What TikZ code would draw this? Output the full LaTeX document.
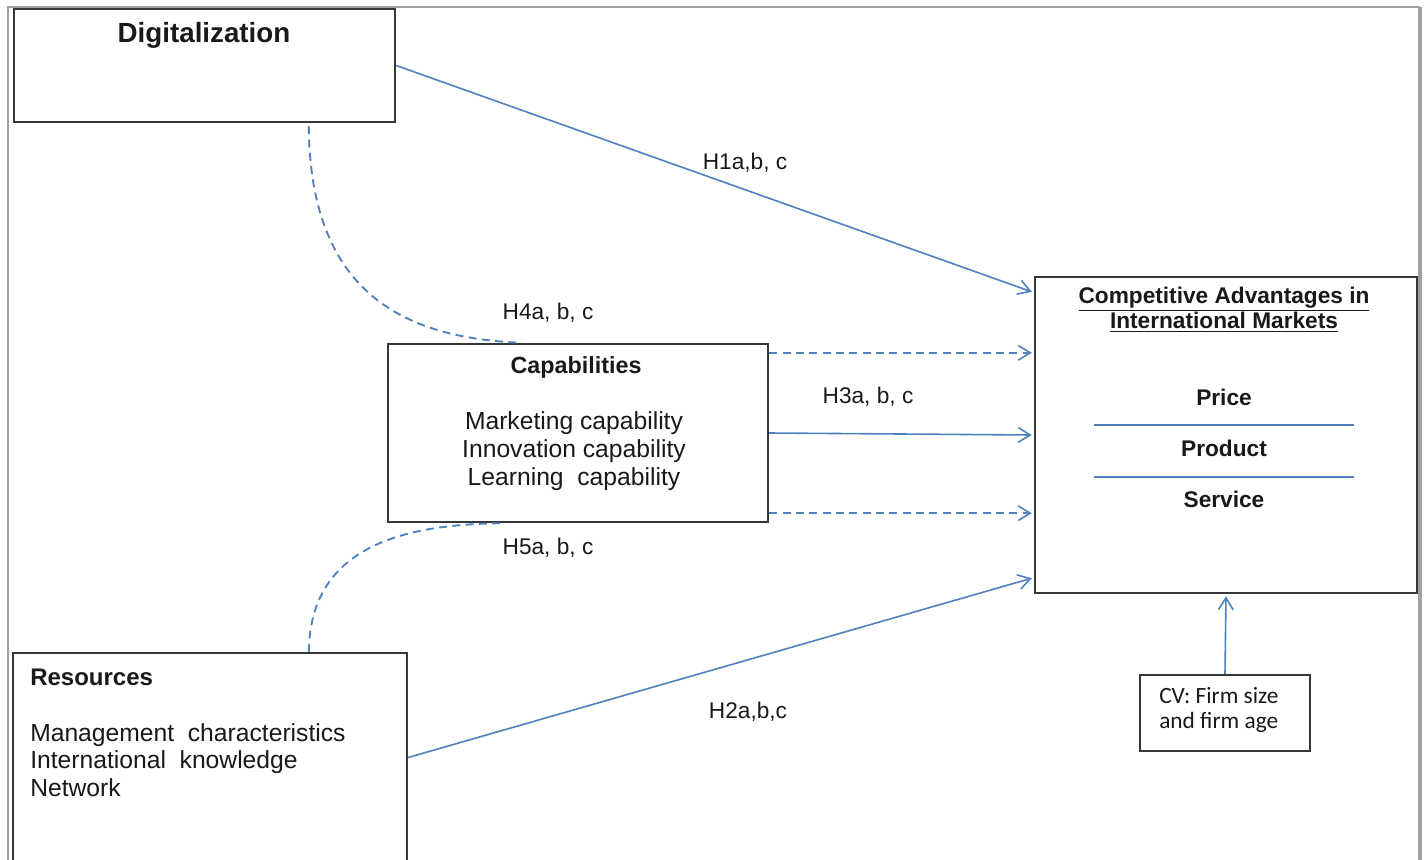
\documentclass[tikz,border=0pt]{standalone}
\usepackage{fontspec}
\setmainfont{Liberation Sans}
\newfontfamily\cvfont{Carlito}
\usetikzlibrary{arrows.meta,calc}
\definecolor{lineblue}{RGB}{79,129,189}
\definecolor{boxgray}{RGB}{55,55,55}
\definecolor{framegray}{RGB}{160,160,160}
\definecolor{txt}{RGB}{25,25,25}
\begin{document}
\begin{tikzpicture}[x=0.75pt,y=-0.75pt,
  box/.style={draw=boxgray,line width=1.8pt,fill=none,rectangle,inner sep=0pt},
  conn/.style={draw=lineblue,line width=1.2pt,-{Straight Barb[length=9pt,width=11pt,line width=1.2pt]}},
  dconn/.style={conn,line width=1.4pt,dash pattern=on 6pt off 4pt},
  dcurve/.style={draw=lineblue,line width=1.4pt,dash pattern=on 6pt off 4pt},
  lbl/.style={text=txt,font=\fontsize{17pt}{20pt}\selectfont,inner sep=0pt},
  ttl/.style={text=txt,font=\bfseries\fontsize{17.5pt}{20pt}\selectfont,inner sep=0pt},
  body/.style={text=txt,font=\fontsize{18.5pt}{21pt}\selectfont,inner sep=0pt}
]
\useasboundingbox (0,0) rectangle (1425,860);
\fill[white] (0,0) rectangle (1425,860);
% outer frame
\draw[framegray,line width=1.8pt] (8,862) -- (8,7) -- (1420,7);
\draw[framegray,line width=2.6pt] (1420,7) -- (1420,862);

% boxes
\node[box,minimum width=381*0.75pt,minimum height=113*0.75pt] (dig) at (204.5,65.5) {};
\node[box,minimum width=380*0.75pt,minimum height=178*0.75pt] (cap) at (578,433) {};
\node[box,minimum width=382*0.75pt,minimum height=316*0.75pt] (comp) at (1226,435) {};
\node[box,minimum width=394*0.75pt,minimum height=217*0.75pt] (res) at (210,761.5) {};
\node[box,minimum width=170*0.75pt,minimum height=76*0.75pt] (cv) at (1225,713) {};

% texts
\node[text=txt,font=\bfseries\fontsize{20.8pt}{24pt}\selectfont,inner sep=0pt] (digt) at (204,35) {Digitalization};
\node[ttl] (capt) at (576,367) {Capabilities};
\node[body,align=center] (capb) at (574,451) {Marketing capability\\Innovation capability\\Learning\ \ capability};
\node[ttl,anchor=west,font=\bfseries\fontsize{18pt}{20pt}\selectfont] (rest) at (30,677) {Resources};
\node[body,align=left,anchor=west,font=\fontsize{18.5pt}{20.6pt}\selectfont] (resb) at (30,760) {Management\ \ characteristics\\International\ \ knowledge\\Network};
\node[ttl,align=center,font=\bfseries\fontsize{17pt}{18.75pt}\selectfont] (compt) at (1224,309.5) {\underline{Competitive Advantages in}\\\underline{International Markets}};
\node[ttl,font=\bfseries\fontsize{17pt}{20pt}\selectfont] (price) at (1224,397) {Price};
\node[ttl,font=\bfseries\fontsize{17pt}{20pt}\selectfont] (product) at (1224,448) {Product};
\node[ttl,font=\bfseries\fontsize{17pt}{20pt}\selectfont] (service) at (1224,499) {Service};
\draw[lineblue,line width=1.2pt] (1094,425) -- (1354,425);
\draw[lineblue,line width=1.2pt] (1094,477) -- (1354,477);
\node[text=txt,align=left,anchor=west,inner sep=0pt,font=\cvfont\fontsize{17.5pt}{18.75pt}\selectfont] (cvt) at (1159,710) {CV: Firm size\\and firm age};

% labels
\node[lbl] (h1) at (745,163) {H1a,b, c};
\node[lbl] (h4) at (548,313) {H4a, b, c};
\node[lbl] (h3) at (868,397) {H3a, b, c};
\node[lbl] (h5) at (548,548) {H5a, b, c};
\node[lbl] (h2) at (748,712) {H2a,b,c};

% connectors
\draw[conn] (dig.east) -- ($(comp.north west)+(-2,16)$);
\draw[dcurve] ($(dig.south west)+(296,3)$) .. controls (310,290) and (400,338) .. ($(cap.north west)+(135,0)$);
\draw[dconn] ($(cap.north east)+(0,10)$) -- ($(comp.west |- cap.north east)+(-2,10)$);
\draw[conn] (cap.east) -- ($(comp.west)+(-2,0)$);
\draw[dconn] ($(cap.south east)+(0,-10)$) -- ($(comp.west |- cap.south east)+(-2,-10)$);
\draw[dcurve] ($(res.north west)+(297,0)$) .. controls (310,548) and (400,524) .. ($(cap.south west)+(117,0)$);
\draw[conn] ($(res.east)+(0,-4)$) -- ($(comp.south west)+(-2,-16)$);
\draw[conn] (cv.north) -- ($(comp.south)+(0,2)$);
\end{tikzpicture}
\end{document}
